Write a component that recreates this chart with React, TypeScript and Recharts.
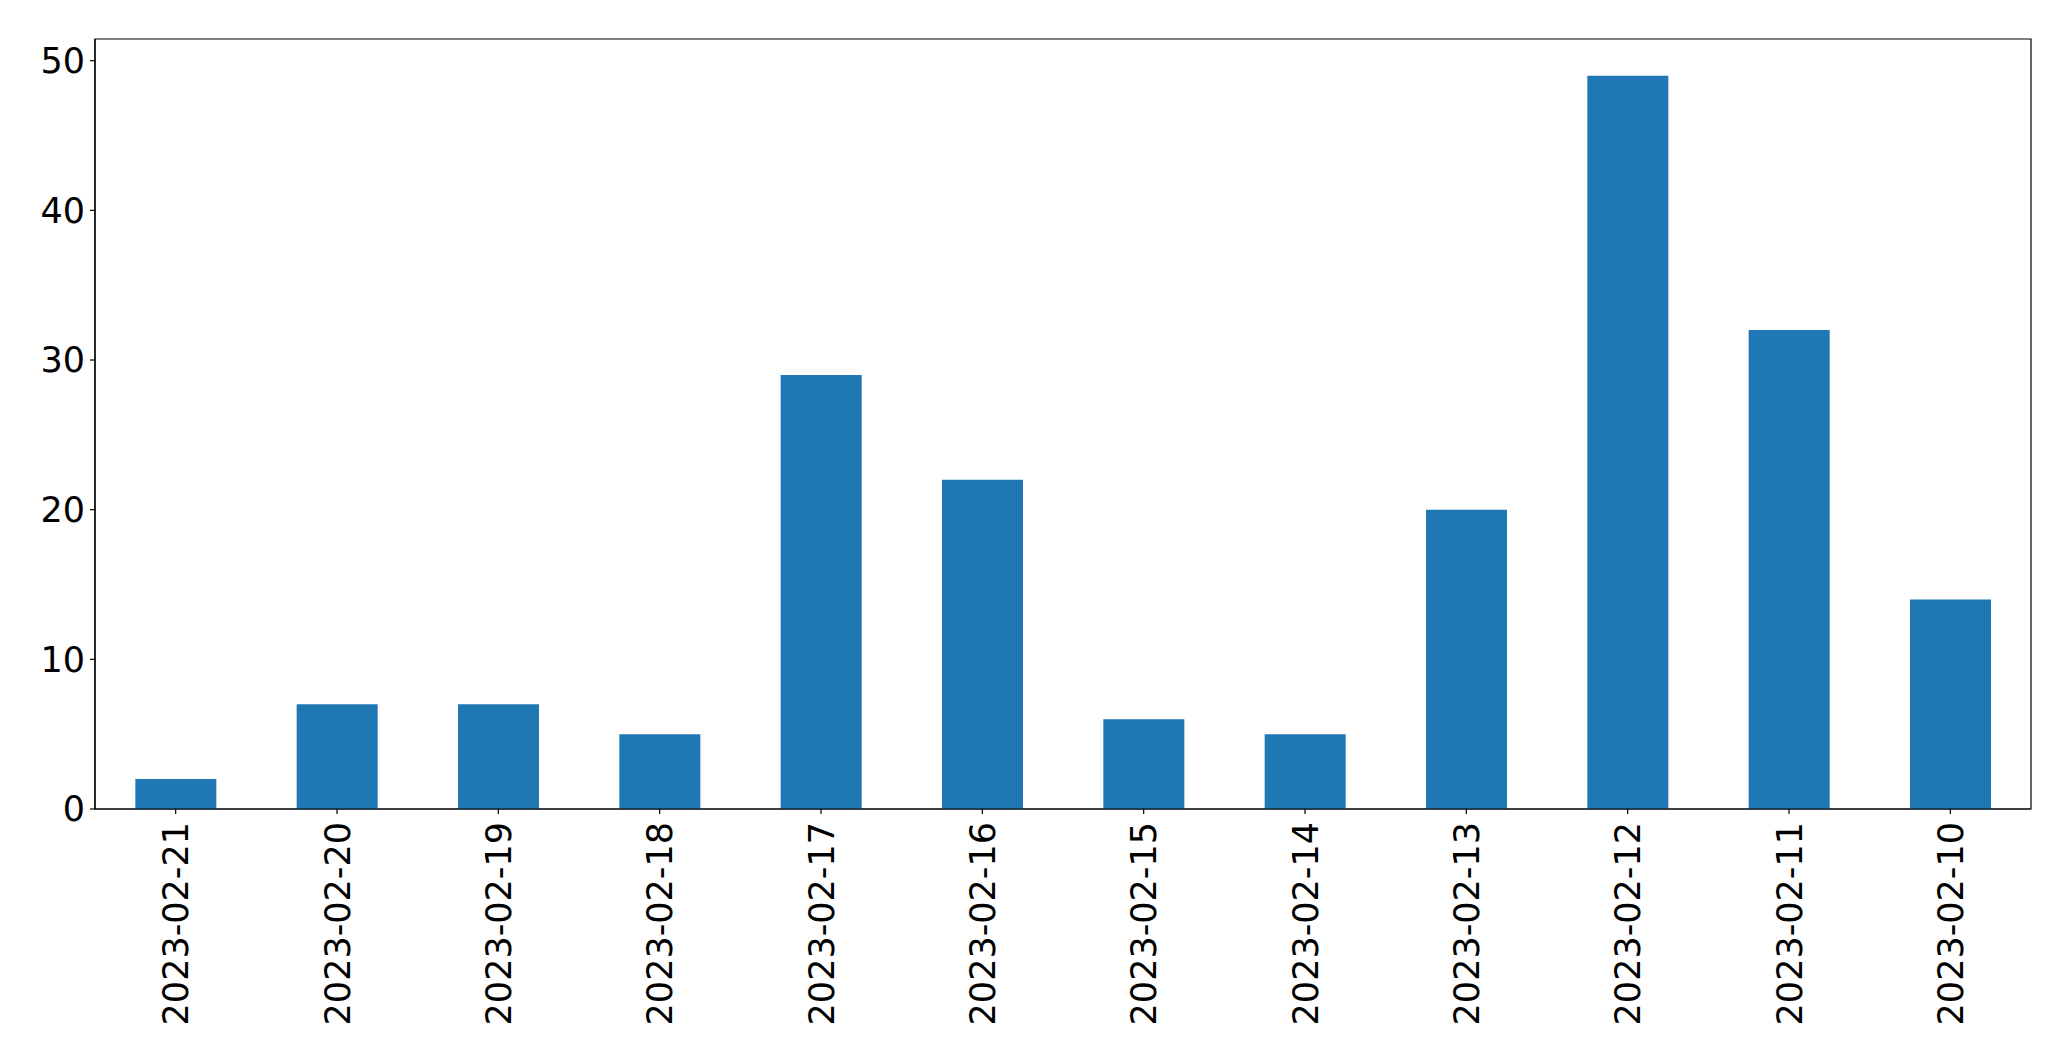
import { BarChart, Bar, XAxis, YAxis, ReferenceArea } from "recharts";

const dates = [
  "2023-02-21",
  "2023-02-20",
  "2023-02-19",
  "2023-02-18",
  "2023-02-17",
  "2023-02-16",
  "2023-02-15",
  "2023-02-14",
  "2023-02-13",
  "2023-02-12",
  "2023-02-11",
  "2023-02-10",
];
const counts = [2, 7, 7, 5, 29, 22, 6, 5, 20, 49, 32, 14];
const yTicks = [0, 10, 20, 30, 40, 50];
const yMax = 51.45;

const data = dates.map((d, i) => ({ date: d, count: counts[i] }));

const font = "'DejaVu Sans', sans-serif";

function DateTick(props: any) {
  const { x, y, payload } = props;
  return (
    <text
      transform={`translate(${x},${y}) rotate(-90)`}
      textAnchor="end"
      dy="0.36em"
      fontSize={35}
      fontFamily={font}
      fill="#000"
    >
      {payload.value}
    </text>
  );
}

export default function App() {
  return (
    <div style={{ position: "absolute", left: 0, top: 0, background: "#fff" }}>
      <BarChart
        width={2071}
        height={1061}
        data={data}
        margin={{ top: 39, right: 40, left: 0, bottom: 0 }}
        barCategoryGap="25%"
      >
        <XAxis
          dataKey="date"
          height={252}
          interval={0}
          tickSize={5}
          tickMargin={8}
          tick={<DateTick />}
          axisLine={{ stroke: "#000", strokeWidth: 1.2 }}
          tickLine={{ stroke: "#000", strokeWidth: 1.2 }}
        />
        <YAxis
          width={95}
          type="number"
          domain={[0, yMax]}
          ticks={yTicks}
          allowDataOverflow
          tickSize={5}
          tickMargin={5}
          tick={{ fontSize: 35, fontFamily: font, fill: "#000" }}
          axisLine={{ stroke: "#000", strokeWidth: 1.2 }}
          tickLine={{ stroke: "#000", strokeWidth: 1.2 }}
        />
        <Bar dataKey="count" fill="#1f77b4" isAnimationActive={false} />
        {/* frame around the plot area */}
        <ReferenceArea
          y1={0}
          y2={yMax}
          fill="none"
          fillOpacity={0}
          stroke="#000"
          strokeWidth={1.2}
        />
      </BarChart>
    </div>
  );
}
